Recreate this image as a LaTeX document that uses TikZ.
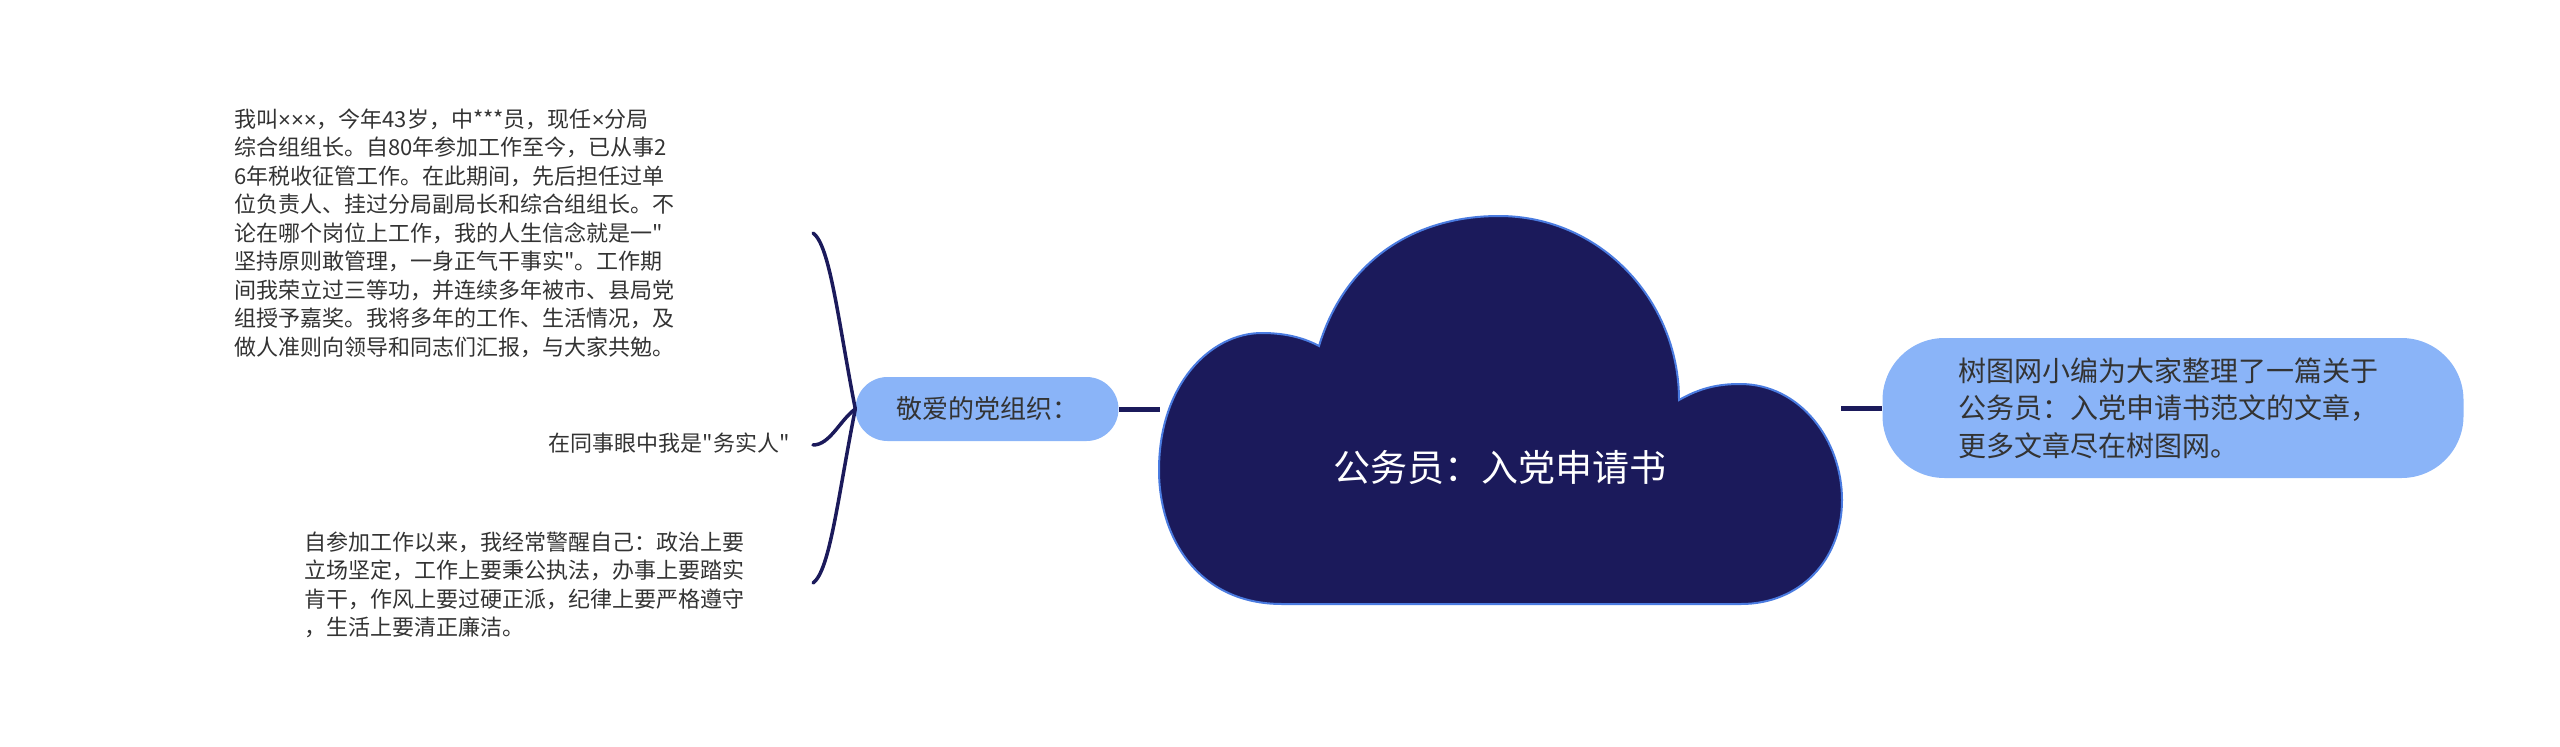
\documentclass[tikz,border=0pt]{standalone}
\usepackage{fontspec}
\setmainfont{Noto Sans CJK SC}[Ligatures=TeXOff]
\newfontfamily\latin{Liberation Sans}
\newcommand{\tms}{{\latin ×}}

\definecolor{navy}{HTML}{1B1A5B}
\definecolor{cloudrim}{HTML}{4A7BE0}
\definecolor{pill}{HTML}{8AB4F8}
\definecolor{ink}{HTML}{333333}

\tikzset{
	pillnode/.style={fill=pill, rounded corners=32pt, inner sep=0pt, text=ink},
	leaf/.style={align=left, inner sep=0pt, text=ink, font=\fontsize{22}{28.5}\selectfont},
	link/.style={draw=navy, line width=5pt},
	twig/.style={draw=navy, line width=3.5pt, line cap=round}
}

\begin{document}
\begin{tikzpicture}[x=1pt,y=-1pt]
		\useasboundingbox (0,0) rectangle (2560,747);
		%% The Branch Nodes
		\node[pillnode, minimum width=263pt, minimum height=64pt,
			font=\fontsize{26}{30}\selectfont] (party) at (987,409) {敬爱的党组织：};
		\node[pillnode, rounded corners=62pt, minimum width=581pt, minimum height=140pt,
			text width=430pt, align=left, font=\fontsize{28}{37.5}\selectfont] (intro) at (2173,408)
			{树图网小编为大家整理了一篇关于\\公务员：入党申请书范文的文章，\\更多文章尽在树图网。};
		%% The Leaves
		\node[leaf, anchor=west] (story) at (234,233)
			{我叫\tms\tms\tms，今年43岁，中***员，现任\tms 分局\\
			 综合组组长。自80年参加工作至今，已从事2\\
			 6年税收征管工作。在此期间，先后担任过单\\
			 位负责人、挂过分局副局长和综合组组长。不\\
			 论在哪个岗位上工作，我的人生信念就是一"\\
			 坚持原则敢管理，一身正气干事实"。工作期\\
			 间我荣立过三等功，并连续多年被市、县局党\\
			 组授予嘉奖。我将多年的工作、生活情况，及\\
			 做人准则向领导和同志们汇报，与大家共勉。};
		\node[leaf, anchor=east] (motto) at (790,443) {在同事眼中我是"务实人"};
		\node[leaf, anchor=west] (creed) at (304,585)
			{自参加工作以来，我经常警醒自己：政治上要\\
			 立场坚定，工作上要秉公执法，办事上要踏实\\
			 肯干，作风上要过硬正派，纪律上要严格遵守\\
			 ，生活上要清正廉洁。};
		%% Invisibly Defining the Free Ends
		\path 
			(813,233)  coordinate (tip1)  % story
			(813,445)  coordinate (tip2)  % motto
			(813,583)  coordinate (tip3)  % creed
			(1160,409) coordinate (cl)
			(1841,408) coordinate (cr);
		%% Curves to the leaves
		\draw[twig] (party.west) .. controls (838,320) and (830,245) .. (tip1);
		\draw[twig] (party.west) .. controls (840,420) and (830,445) .. (tip2);
		\draw[twig] (party.west) .. controls (838,496) and (830,571) .. (tip3);
		%% Short links to the cloud
		\draw[link] (party.east) -- (cl);
		\draw[link] (cr) -- (intro.west);
		%% The Cloud
		\filldraw[fill=navy, draw=cloudrim, line width=2pt]
			(1282,604) .. controls (1200,604) and (1159,540) .. (1159,470)
			.. controls (1159,385) and (1210,333) .. (1262,333)
			.. controls (1288,333) and (1306,339) .. (1319,346) % left dip
			.. controls (1345,260) and (1415,216) .. (1499,216)
			.. controls (1600,216) and (1679,300) .. (1679,400) % right dip
			.. controls (1700,388) and (1718,384) .. (1740,384)
			.. controls (1800,384) and (1842,440) .. (1842,500)
			.. controls (1842,560) and (1800,604) .. (1741,604)
			-- cycle;
		\node[text=white, font=\fontsize{37}{40}\selectfont] (title) at (1500,467) {公务员：入党申请书};
	\end{tikzpicture}
\end{document}
